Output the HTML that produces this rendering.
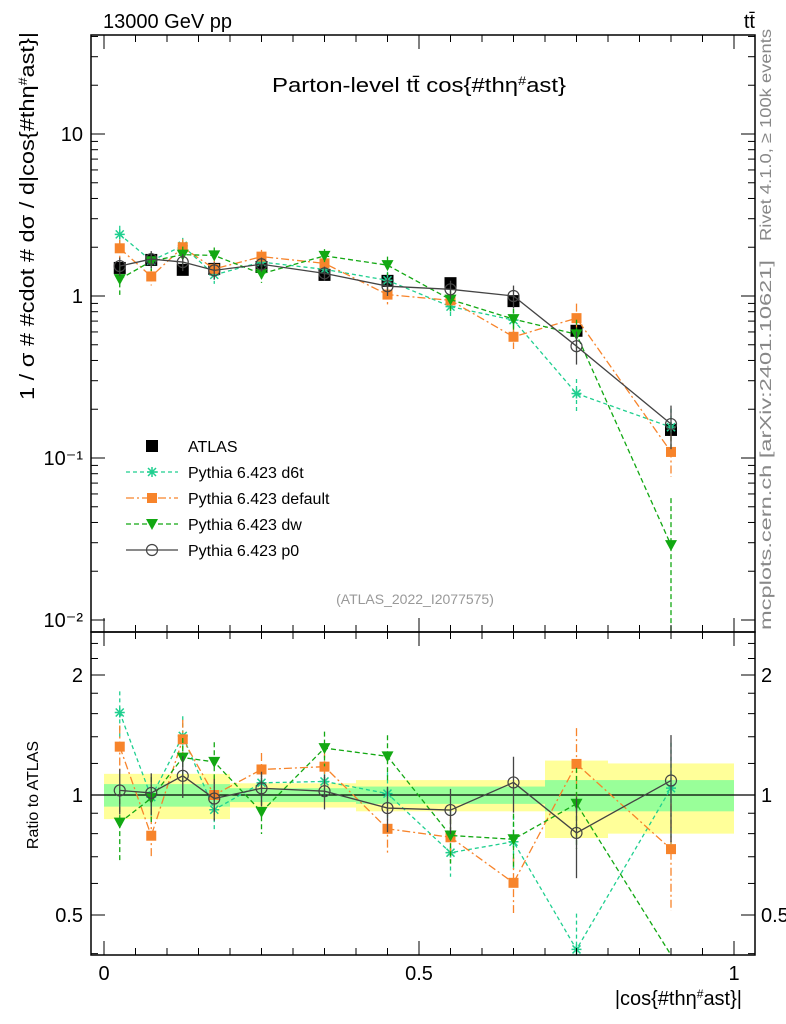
<!DOCTYPE html>
<html><head><meta charset="utf-8"><style>
body{margin:0;background:#fff;}
svg{display:block;font-family:"Liberation Sans",sans-serif;}
</style></head><body>
<svg id="c" width="786" height="1024" xmlns="http://www.w3.org/2000/svg">
<text x="103" y="28" font-size="20">13000 GeV pp</text>
<text x="755" y="28" font-size="20" text-anchor="end">tt̄</text>
<text x="419" y="92" font-size="20" text-anchor="middle" textLength="294" lengthAdjust="spacingAndGlyphs">Parton-level tt̄ cos{#thη<tspan dy="-7" font-size="12">#</tspan><tspan dy="7">ast}</tspan></text>
<text transform="translate(34,216) rotate(-90)" font-size="20" text-anchor="middle" textLength="368" lengthAdjust="spacingAndGlyphs">1 / σ # #cdot # dσ / d|cos{#thη<tspan dy="-7" font-size="12">#</tspan><tspan dy="7">ast}|</tspan></text>
<text transform="translate(38,795) rotate(-90)" font-size="16" text-anchor="middle">Ratio to ATLAS</text>
<text x="742" y="1005" font-size="20" text-anchor="end">|cos{#thη<tspan dy="-7" font-size="12">#</tspan><tspan dy="7">ast}|</tspan></text>
<text transform="translate(771,135) rotate(-90)" font-size="16" fill="#888" text-anchor="middle" textLength="212" lengthAdjust="spacingAndGlyphs">Rivet 4.1.0, ≥ 100k events</text>
<text transform="translate(771,445) rotate(-90)" font-size="16" fill="#888" text-anchor="middle" textLength="370" lengthAdjust="spacingAndGlyphs">mcplots.cern.ch [arXiv:2401.10621]</text>
<text x="415" y="604" font-size="14" fill="#999" text-anchor="middle">(ATLAS_2022_I2077575)</text>
<g id="bands"></g><g id="plots"></g><g id="axes"></g><g id="legend"></g>
</svg>
<script>
const binEdges=[0,0.05,0.1,0.15,0.2,0.3,0.4,0.5,0.6,0.7,0.8,1.0];
const atlas=[1.49,1.67,1.45,1.47,1.51,1.35,1.24,1.20,0.93,0.61,0.149];
const atlasStat=[0.065,0.065,0.065,0.065,0.04,0.04,0.05,0.05,0.05,0.09,0.09];
const atlasTot=[0.13,0.13,0.13,0.13,0.07,0.07,0.09,0.09,0.09,0.22,0.2];
const p0=[1.53,1.69,1.62,1.44,1.57,1.38,1.15,1.10,1.00,0.49,0.162];
const d6t=[2.40,1.65,2.04,1.35,1.62,1.46,1.25,0.86,0.71,0.25,0.155];
const dflt=[1.97,1.32,2.00,1.47,1.75,1.59,1.02,0.94,0.56,0.73,0.109];
const dw=[1.27,1.64,1.80,1.78,1.37,1.77,1.55,0.95,0.72,0.58,0.029];
const mcErr=[0.13,0.12,0.12,0.12,0.1,0.1,0.13,0.13,0.16,0.23,0.3];
const dwErr=[0.2,0.13,0.12,0.12,0.12,0.1,0.13,0.15,0.16,0.23,0.95];
const mainTicks=[0.01,0.1,1,10];
const mainTickLabels=["10⁻²","10⁻¹","1","10"];
const ratioTicks=[0.5,1,2];
const xTicks=[0,0.5,1];

const NS="http://www.w3.org/2000/svg";
const L=91,R=755,T=35,MB=632,B=955;
const X=v=>104+630*v;
const Y=v=>296-162*Math.log10(v);
const YR=v=>{const y=795-120*Math.log2(v);return Math.max(MB,Math.min(B,y))};
function mk(p,tag,a){const e=document.createElementNS(NS,tag);for(const k in a)e.setAttribute(k,a[k]);p.appendChild(e);return e;}
const gB=document.getElementById('bands'),gP=document.getElementById('plots'),gA=document.getElementById('axes'),gL=document.getElementById('legend');
const centers=binEdges.slice(0,-1).map((e,i)=>(e+binEdges[i+1])/2);

for(let i=0;i<atlas.length;i++){
 let r=mk(gB,'rect',{x:X(binEdges[i]),y:YR(1+atlasTot[i]),width:X(binEdges[i+1])-X(binEdges[i]),height:YR(1-atlasTot[i])-YR(1+atlasTot[i]),fill:'#ffff99'});
 
 
 let g=mk(gB,'rect',{x:X(binEdges[i]),y:YR(1+atlasStat[i]),width:X(binEdges[i+1])-X(binEdges[i]),height:YR(1-atlasStat[i])-YR(1+atlasStat[i]),fill:'#99ff99'});
 
 
}
mk(gB,'line',{x1:L,x2:R,y1:795,y2:795,stroke:'#000','stroke-width':1.2});

function clipY(y,top,bot){return Math.max(top,Math.min(bot,y));}
function marker(g,type,x,y,col){
 if(type==='sq')return mk(g,'rect',{x:x-6,y:y-6,width:12,height:12,fill:col});
 if(type==='sqs')return mk(g,'rect',{x:x-5,y:y-5,width:10,height:10,fill:col});
 if(type==='tri')return mk(g,'path',{d:`M${x-6},${y-5}L${x+6},${y-5}L${x},${y+6}Z`,fill:col});
 if(type==='circ')return mk(g,'circle',{cx:x,cy:y,r:5.5,fill:'none',stroke:col,'stroke-width':1.2});
 if(type==='star')return mk(g,'path',{d:`M${x-5},${y}H${x+5}M${x},${y-5}V${y+5}M${x-4},${y-4}L${x+4},${y+4}M${x-4},${y+4}L${x+4},${y-4}`,stroke:col,'stroke-width':1.5});
}
const series=[
 {name:'d6t',vals:d6t,err:mcErr,col:'#1fcf8f',dash:'4,3',m:'star'},
 {name:'default',vals:dflt,err:mcErr,col:'#f7842b',dash:'8,3,2,3',m:'sqs'},
 {name:'dw',vals:dw,err:dwErr,col:'#12a812',dash:'5,3',m:'tri'},
 {name:'p0',vals:p0,err:mcErr,col:'#444',dash:'',m:'circ'}
];
const ga=mk(gP,'g',{});


atlas.forEach((v,i)=>{
 mk(ga,'line',{x1:X(centers[i]),x2:X(centers[i]),y1:Y(v*1.06),y2:Y(v/1.06),stroke:'#000','stroke-width':1.5});
 const m=marker(ga,'sq',X(centers[i]),Y(v),'#000');
 
 
});
series.forEach(s=>{
 const g=mk(gP,'g',{});
 
 
 const pm=s.vals.map((v,i)=>[X(centers[i]),Y(v)]);
 mk(g,'polyline',{points:pm.map(p=>p.join(',')).join(' '),fill:'none',stroke:s.col,'stroke-width':1.3,'stroke-dasharray':s.dash});
 const pr=s.vals.map((v,i)=>[X(centers[i]),YR(v/atlas[i])]);
 mk(g,'polyline',{points:pr.map(p=>p.join(',')).join(' '),fill:'none',stroke:s.col,'stroke-width':1.3,'stroke-dasharray':s.dash});
 s.vals.forEach((v,i)=>{
  const x=X(centers[i]),e=s.err[i];
  const lo=Math.max(v*(1-e),1e-4);
  mk(g,'line',{x1:x,x2:x,y1:clipY(Y(v*(1+e)),T,MB),y2:clipY(Y(lo),T,MB),stroke:s.col,'stroke-width':1.3,'stroke-dasharray':s.dash});
  const r=v/atlas[i];
  mk(g,'line',{x1:x,x2:x,y1:clipY(YR(r*(1+e)),MB,B),y2:clipY(YR(Math.max(r*(1-e),0.01)),MB,B),stroke:s.col,'stroke-width':1.3,'stroke-dasharray':s.dash});
  const m=marker(g,s.m,x,Y(v),s.col);
  
  
  if(YR(r)<B-1){const m2=marker(g,s.m,x,YR(r),s.col);
  
  }
 });
});
mk(gA,'rect',{x:L,y:T,width:R-L,height:MB-T,fill:'none',stroke:'#000','stroke-width':1.5});
mk(gA,'rect',{x:L,y:MB,width:R-L,height:B-MB,fill:'none',stroke:'#000','stroke-width':1.5});
for(let d=-2;d<=1;d++){
 for(let k=1;k<10;k++){const v=k*Math.pow(10,d),y=Y(v);if(y<T||y>MB)continue;const len=k===1?14:7;
  mk(gA,'line',{x1:L,x2:L+len,y1:y,y2:y,stroke:'#000'});mk(gA,'line',{x1:R,x2:R-len,y1:y,y2:y,stroke:'#000'});}
}
mainTicks.forEach((v,i)=>{const t=mk(gA,'text',{x:L-8,y:Y(v)+7,'font-size':20,'text-anchor':'end'});t.textContent=mainTickLabels[i];
 
 });
[0.4,0.5,0.6,0.7,0.8,0.9,1,1.2,1.4,1.6,1.8,2,2.2,2.4].forEach(v=>{const y=YR(v);const len=(v===0.5||v===1||v===2)?14:7;
 mk(gA,'line',{x1:L,x2:L+len,y1:y,y2:y,stroke:'#000'});mk(gA,'line',{x1:R,x2:R-len,y1:y,y2:y,stroke:'#000'});});
ratioTicks.forEach(v=>{[[L-8,'end'],[R+6,'start']].forEach(([x,a])=>{const t=mk(gA,'text',{x:x,y:YR(v)+7,'font-size':20,'text-anchor':a});t.textContent=String(v);
 
 });});
for(let k=0;k<=20;k++){const v=k*0.05,x=X(v);const len=k%10===0?14:7;
 mk(gA,'line',{x1:x,x2:x,y1:T,y2:T+len,stroke:'#000'});mk(gA,'line',{x1:x,x2:x,y1:MB,y2:MB-len,stroke:'#000'});
 mk(gA,'line',{x1:x,x2:x,y1:MB,y2:MB+len,stroke:'#000'});mk(gA,'line',{x1:x,x2:x,y1:B,y2:B-len,stroke:'#000'});}
xTicks.forEach(v=>{const t=mk(gA,'text',{x:X(v),y:980,'font-size':20,'text-anchor':'middle'});t.textContent=String(v);
 
 });
const leg=[['ATLAS','#000','','sq'],['Pythia 6.423 d6t','#1fcf8f','4,3','star'],['Pythia 6.423 default','#f7842b','8,3,2,3','sqs'],['Pythia 6.423 dw','#12a812','5,3','tri'],['Pythia 6.423 p0','#444','','circ']];
leg.forEach((l,i)=>{const y=446+26*i;const g=mk(gL,'g',{});
 
 
 if(i>0)mk(g,'line',{x1:126,x2:178,y1:y,y2:y,stroke:l[1],'stroke-width':1.3,'stroke-dasharray':l[2]});
 marker(g,l[3],152,y,l[1]);
 const t=mk(g,'text',{x:188,y:y+6,'font-size':16});t.textContent=l[0];});
</script>
</body></html>
